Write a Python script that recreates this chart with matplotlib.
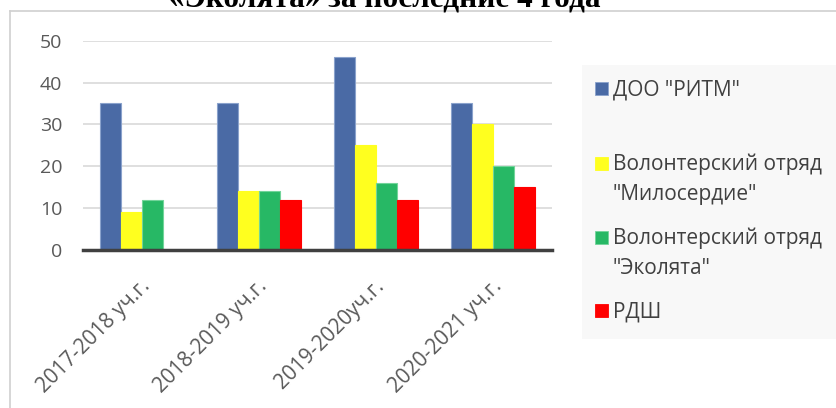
import matplotlib
matplotlib.use("Agg")
import matplotlib.pyplot as plt
import matplotlib.transforms as mtransforms
import numpy as np
from matplotlib.lines import Line2D
from matplotlib.patches import Rectangle

plt.rcParams['font.family'] = ['Open Sans', 'DejaVu Sans']

categories = ["2017-2018 уч.г.", "2018-2019 уч.г.", "2019-2020уч.г.", "2020-2021 уч.г."]
series_names = ['ДОО "РИТМ"', 'Волонтерский отряд\n"Милосердие"',
                'Волонтерский отряд\n"Эколята"', 'РДШ']
ritm = [35, 35, 46, 35]
miloserdie = [9, 14, 25, 30]
ekolyata = [12, 14, 16, 20]
rdsh = [0, 12, 12, 15]
yticks = [0, 10, 20, 30, 40, 50]
title = "«Эколята» за последние 4 года"

colors = ['#4a6aa5', '#ffff1f', '#27b865', '#ff0000']
edges = ['#8aa2cc', '#ffff1f', '#72d49a', '#ff0000']

W, H = 837, 408
fig = plt.figure(figsize=(W / 100, H / 100), dpi=100)

def fx(px):
    return px / W

def fy(py):
    return 1 - py / H

ax = fig.add_axes([fx(83), fy(250), fx(552) - fx(83), fy(40.7) - fy(250)])

x = np.arange(len(categories))
bw = 0.179
data = [ritm, miloserdie, ekolyata, rdsh]
for i, vals in enumerate(data):
    offs = (i - 1.5) * bw
    for xi, v in zip(x, vals):
        if v > 0:
            ax.bar(xi + offs, v, width=bw, color=colors[i], edgecolor=edges[i],
                   linewidth=0.8, zorder=3)

ax.set_xlim(-0.5, len(categories) - 0.5)
ax.set_ylim(0, 50)
ax.set_yticks(yticks)
ax.set_yticklabels([str(t) for t in yticks])
ax.yaxis.grid(True, color='#d9d9d9', linewidth=1.2, zorder=0)
ax.set_axisbelow(True)
for s in ['top', 'right', 'left']:
    ax.spines[s].set_visible(False)
ax.spines['bottom'].set_color('#404040')
ax.spines['bottom'].set_linewidth(2.5)
ax.spines['bottom'].set_zorder(4)
ax.tick_params(axis='y', length=0, pad=15, labelsize=14, labelcolor='#595959')
ax.tick_params(axis='x', length=0, pad=24, labelsize=15, labelcolor='#595959')
ax.set_xticks(x)
ax.set_xticklabels(categories, rotation=45, ha='right', va='center',
                   rotation_mode='anchor')
off = mtransforms.ScaledTranslation(5 / 100, 0, fig.dpi_scale_trans)
for lbl in ax.get_xticklabels():
    lbl.set_transform(lbl.get_transform() + off)

# frame
fig.add_artist(Line2D([fx(9.5), fx(9.5)], [fy(11), 0], color='#d0d0d0', lw=1.2,
                      transform=fig.transFigure))
fig.add_artist(Line2D([fx(9.5), 1], [fy(11), fy(11)], color='#d0d0d0', lw=1.2,
                      transform=fig.transFigure))

# title (clipped at top)
fig.text(fx(385), fy(6.5), title, ha='center', va='baseline',
         fontfamily='Liberation Serif', fontweight='bold', fontsize=22.5, color='black')

# legend
fig.add_artist(Rectangle((fx(582), fy(339)), fx(837) - fx(582), fy(65) - fy(339),
                         transform=fig.transFigure, facecolor='#f8f8f8',
                         edgecolor='none', zorder=0))
leg_y = [88.5, 163, 237, 310]
line_step = 29.5
for i, name in enumerate(series_names):
    cy = leg_y[i]
    fig.add_artist(Rectangle((fx(595), fy(cy + 6.5)), fx(13), 13 / H,
                             transform=fig.transFigure, facecolor=colors[i],
                             edgecolor=edges[i], linewidth=0.6))
    for k, line in enumerate(name.split('\n')):
        fig.text(fx(613), fy(cy + 7 + k * line_step), line, ha='left', va='baseline',
                 fontsize=15, color='#404040')

fig.savefig('out.png', dpi=100)
